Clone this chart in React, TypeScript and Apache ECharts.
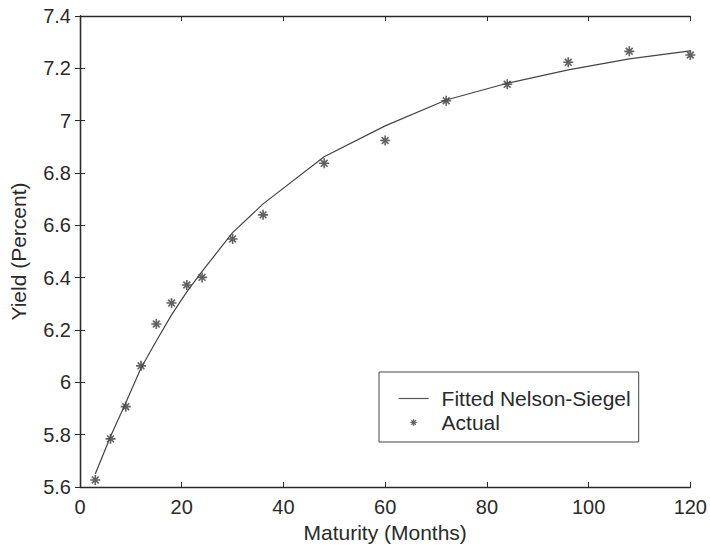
import React, { useEffect, useRef } from "react";
import * as echarts from "echarts";

const maturities = [3, 6, 9, 12, 15, 18, 21, 24, 30, 36, 48, 60, 72, 84, 96, 108, 120];
const fittedYield = [5.65, 5.793, 5.922, 6.055, 6.158, 6.258, 6.346, 6.424, 6.572, 6.682, 6.862, 6.98, 7.079, 7.143, 7.194, 7.236, 7.267];
const actualYield = [5.627, 5.784, 5.907, 6.063, 6.223, 6.303, 6.372, 6.401, 6.548, 6.64, 6.837, 6.924, 7.076, 7.139, 7.223, 7.265, 7.251];
const xTicks = [0, 20, 40, 60, 80, 100, 120];
const yTicks = [5.6, 5.8, 6, 6.2, 6.4, 6.6, 6.8, 7, 7.2, 7.4];

const STAR = "path://M5 0 L5 10 M0 5 L10 5 M1.6 1.6 L8.4 8.4 M8.4 1.6 L1.6 8.4";
const STAR_SMALL = "path://M0 0 M20 20 M10 5.5 L10 14.5 M5.5 10 L14.5 10 M6.8 6.8 L13.2 13.2 M13.2 6.8 L6.8 13.2";
const FONT = "'Liberation Sans', Arial, Helvetica, sans-serif";
const INK = "#2a2a2a";
const MARK = "#3a3a3a";

export default function App() {
  const ref = useRef<HTMLDivElement>(null);
  useEffect(() => {
    if (!ref.current) return;
    const chart = echarts.init(ref.current, null, { renderer: "svg" });
    const axisLine = { show: true, lineStyle: { color: INK, width: 1.3 } };
    const tickIn = { show: true, inside: true, length: 5, lineStyle: { color: INK, width: 1 } };
    const labelStyle = { color: INK, fontSize: 20, fontFamily: FONT };
    chart.setOption({
      animation: false,
      backgroundColor: "#ffffff",
      grid: { left: 79, right: 17, top: 16, bottom: 62, containLabel: false },
      xAxis: [
        {
          type: "value",
          min: xTicks[0],
          max: xTicks[xTicks.length - 1],
          interval: 20,
          position: "bottom",
          axisLine,
          axisTick: tickIn,
          splitLine: { show: false },
          axisLabel: { ...labelStyle, margin: 10 },
          name: "Maturity (Months)",
          nameLocation: "middle",
          nameGap: 33,
          nameTextStyle: { color: INK, fontSize: 21, fontFamily: FONT },
        },
        {
          type: "value",
          min: xTicks[0],
          max: xTicks[xTicks.length - 1],
          interval: 20,
          position: "top",
          axisLine,
          axisTick: tickIn,
          splitLine: { show: false },
          axisLabel: { show: false },
        },
      ],
      yAxis: [
        {
          type: "value",
          min: yTicks[0],
          max: yTicks[yTicks.length - 1],
          interval: 0.2,
          position: "left",
          axisLine,
          axisTick: tickIn,
          splitLine: { show: false },
          axisLabel: { ...labelStyle, margin: 9, formatter: (v: number) => String(Math.round(v * 10) / 10) },
          name: "Yield (Percent)",
          nameLocation: "middle",
          nameGap: 51,
          nameTextStyle: { color: INK, fontSize: 21, fontFamily: FONT },
        },
        {
          type: "value",
          min: yTicks[0],
          max: yTicks[yTicks.length - 1],
          interval: 0.2,
          position: "right",
          axisLine,
          axisTick: tickIn,
          splitLine: { show: false },
          axisLabel: { show: false },
        },
      ],
      legend: {
        orient: "vertical",
        left: 379,
        top: 372,
        padding: [16, 8, 9, 19],
        itemWidth: 30,
        itemHeight: 14,
        itemGap: 3,
        borderColor: "#444",
        borderWidth: 1,
        backgroundColor: "#ffffff",
        textStyle: { color: INK, fontSize: 21, fontFamily: FONT, padding: [0, 0, 0, 8] },
        data: [
          {
            name: "Fitted Nelson-Siegel",
            itemStyle: { color: "transparent", borderColor: "transparent", borderWidth: 0, opacity: 0 },
            lineStyle: { color: "#555", width: 1.2 },
          },
          { name: "Actual", icon: STAR_SMALL, itemStyle: { color: "transparent", borderColor: MARK, borderWidth: 1.2 } },
        ],
      },
      series: [
        {
          name: "Fitted Nelson-Siegel",
          type: "line",
          data: maturities.map((m, i) => [m, fittedYield[i]]),
          showSymbol: false,
          lineStyle: { color: "#444", width: 1.2 },
          itemStyle: { color: "#444" },
        },
        {
          name: "Actual",
          type: "scatter",
          data: maturities.map((m, i) => [m, actualYield[i]]),
          symbol: STAR,
          symbolSize: 10,
          itemStyle: { color: "transparent", borderColor: MARK, borderWidth: 1.6 },
        },
      ],
    });
    return () => chart.dispose();
  }, []);
  return <div ref={ref} style={{ position: "fixed", left: 0, top: 0, width: 710, height: 549 }} />;
}
